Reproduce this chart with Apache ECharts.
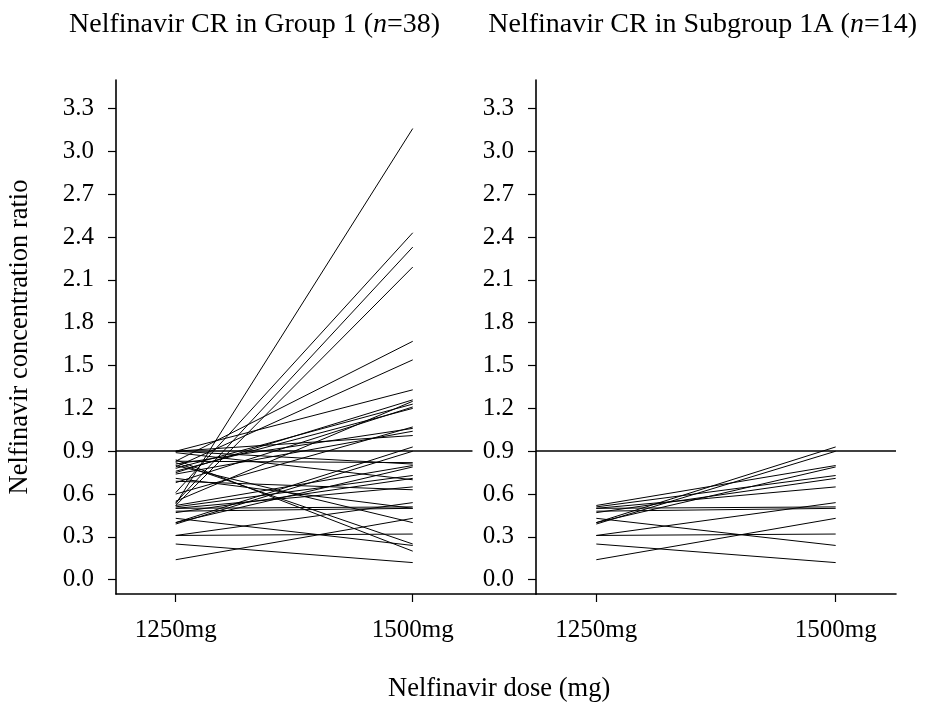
<!DOCTYPE html>
<html>
<head>
<meta charset="utf-8">
<script src="https://cdn.jsdelivr.net/npm/echarts@6/dist/echarts.min.js"></script>
<style>html,body{margin:0;padding:0;background:#fff}#c{width:925px;height:705px}</style>
</head>
<body>
<div id="c"></div>
<script>
// ---- data ----
var doses = [1250, 1500];
var doseLabels = ['1250mg', '1500mg'];
var yTicks = [0.0, 0.3, 0.6, 0.9, 1.2, 1.5, 1.8, 2.1, 2.4, 2.7, 3.0, 3.3];
var threshold = 0.9;
var panelTitles = ['Nelfinavir CR in Group 1 (n=38)', 'Nelfinavir CR in Subgroup 1A (n=14)'];
var yName = 'Nelfinavir concentration ratio';
var xName = 'Nelfinavir dose (mg)';

// Group 1 (n=38): CR at 1250mg and at 1500mg
var group1_1250 = [0.40,0.39,0.40,0.52,0.51,0.47,0.50,0.48,0.50,0.31,0.31,0.43,0.25,0.14,
                   0.53,0.61,0.54,0.52,0.83,0.79,0.90,0.75,0.55,0.78,0.68,0.76,0.60,0.81,
                   0.74,0.90,0.83,0.90,0.89,0.69,0.71,0.80,0.82,0.84];
var group1_1500 = [0.93,0.90,0.79,0.80,0.73,0.71,0.65,0.50,0.51,0.54,0.32,0.24,0.12,0.43,
                   3.16,2.43,2.33,2.19,1.67,1.54,1.33,1.26,1.25,1.23,1.21,1.20,1.07,1.06,
                   1.04,1.01,0.82,0.81,0.70,0.63,0.50,0.40,0.25,0.20];
// Subgroup 1A (n=14)
var sub1A_1250 = [0.40,0.39,0.40,0.52,0.51,0.47,0.50,0.48,0.50,0.31,0.31,0.43,0.25,0.14];
var sub1A_1500 = [0.93,0.90,0.79,0.80,0.73,0.71,0.65,0.50,0.51,0.54,0.32,0.24,0.12,0.43];

// ---- chart ----
var FONT = '"Liberation Serif", serif';
var TICK_FS = 25, NAME_FS = 26.5, TITLE_FS = 28;
var chart = echarts.init(document.getElementById('c'), null, {renderer: 'canvas'});

function fmtTitle(t) {
  return t.replace('(n=', '({i|n}=');
}

function pairSeries(a, b, xi, yi) {
  var out = [];
  for (var i = 0; i < a.length; i++) {
    out.push({
      type: 'line', xAxisIndex: xi, yAxisIndex: yi,
      data: [[doses[0], a[i]], [doses[1], b[i]]],
      symbol: 'none', silent: true, animation: false,
      lineStyle: {color: '#000', width: 1}
    });
  }
  return out;
}

var series = pairSeries(group1_1250, group1_1500, 0, 0)
  .concat(pairSeries(sub1A_1250, sub1A_1500, 1, 1));

// threshold lines
series.push({
  type: 'line', xAxisIndex: 0, yAxisIndex: 0, data: [], silent: true, animation: false,
  markLine: {symbol: 'none', silent: true, animation: false, label: {show: false},
    lineStyle: {color: '#000', width: 1.6, type: 'solid'},
    data: [[{coord: [1187, threshold]}, {coord: [1563, threshold]}]]}
});
series.push({
  type: 'line', xAxisIndex: 1, yAxisIndex: 1, data: [], silent: true, animation: false,
  markLine: {symbol: 'none', silent: true, animation: false, label: {show: false},
    lineStyle: {color: '#000', width: 1.6, type: 'solid'},
    data: [{yAxis: threshold}]}
});

function xAxis(gi, min, max) {
  return {
    type: 'value', gridIndex: gi, min: min, max: max,
    axisLine: {show: true, onZero: false, lineStyle: {color: '#000', width: 1.6}},
    axisTick: {show: true, length: 8, customValues: doses, lineStyle: {color: '#000', width: 1.2}},
    axisLabel: {customValues: doses, margin: 24, color: '#000', fontFamily: FONT, fontSize: TICK_FS,
      formatter: function (v) { return doseLabels[doses.indexOf(v)] || ''; }},
    splitLine: {show: false}
  };
}
function yAxis(gi) {
  return {
    type: 'value', gridIndex: gi, min: -0.1, max: 3.5,
    axisLine: {show: true, onZero: false, lineStyle: {color: '#000', width: 1.6}},
    axisTick: {show: true, length: 8, customValues: yTicks, lineStyle: {color: '#000', width: 1.2}},
    axisLabel: {customValues: yTicks, margin: 22, color: '#000', fontFamily: FONT, fontSize: TICK_FS,
      formatter: function (v) { return v.toFixed(1); }},
    splitLine: {show: false}
  };
}

var yA0 = yAxis(0);
yA0.name = yName;
yA0.nameLocation = 'middle';
yA0.nameGap = 82;
yA0.nameTextStyle = {color: '#000', fontFamily: FONT, fontSize: NAME_FS};

var titleStyle = {color: '#000', fontFamily: FONT, fontSize: TITLE_FS, fontWeight: 'normal',
  rich: {i: {fontStyle: 'italic', fontFamily: FONT, fontSize: TITLE_FS, color: '#000'}}};

chart.setOption({
  animation: false,
  backgroundColor: '#fff',
  title: [
    {text: fmtTitle(panelTitles[0]), left: 64, top: 6, textStyle: titleStyle},
    {text: fmtTitle(panelTitles[1]), right: 3, top: 6, textStyle: titleStyle},
    {text: xName, left: 383, top: 671,
     textStyle: {color: '#000', fontFamily: FONT, fontSize: NAME_FS, fontWeight: 'normal'}}
  ],
  grid: [
    {left: 116, top: 80, width: 420, height: 514, containLabel: false},
    {left: 536, top: 80, width: 360, height: 514, containLabel: false}
  ],
  xAxis: [xAxis(0, 1187, 1630), xAxis(1, 1187, 1563)],
  yAxis: [yA0, yAxis(1)],
  series: series
});
</script>
</body>
</html>
